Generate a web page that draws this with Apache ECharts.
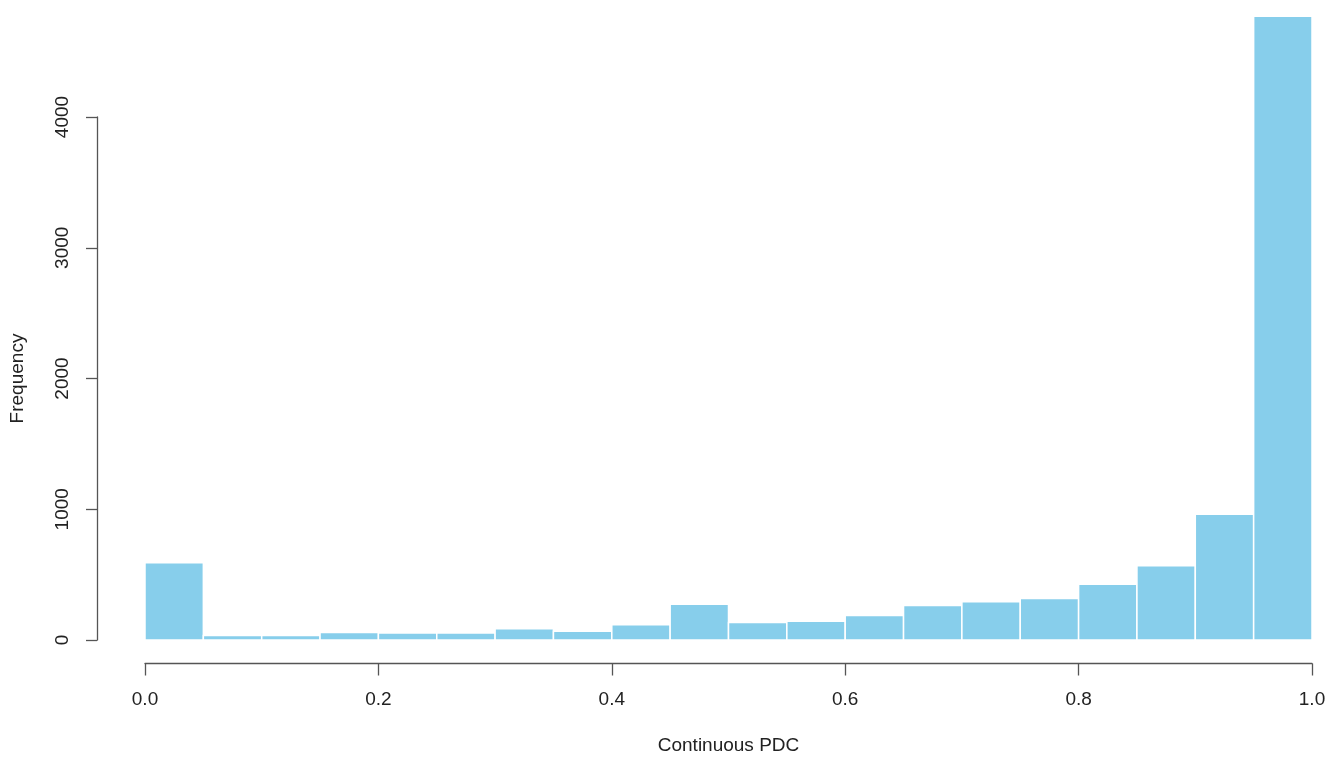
<!DOCTYPE html>
<html>
<head>
<meta charset="utf-8">
<script src="https://cdn.jsdelivr.net/npm/echarts@6/dist/echarts.min.js"></script>
<style>html,body{margin:0;padding:0;background:#fff;}#c{width:1338px;height:760px;}</style>
</head>
<body>
<div id="c"></div>
<script>
var binStarts = [0.00,0.05,0.10,0.15,0.20,0.25,0.30,0.35,0.40,0.45,0.50,0.55,0.60,0.65,0.70,0.75,0.80,0.85,0.90,0.95];
var binEnds   = [0.05,0.10,0.15,0.20,0.25,0.30,0.35,0.40,0.45,0.50,0.55,0.60,0.65,0.70,0.75,0.80,0.85,0.90,0.95,1.00];
var counts    = [591,35,35,58,53,53,86,66,117,273,134,144,187,263,293,318,427,568,962,4770];
var xTicks = [0,0.2,0.4,0.6,0.8,1.0];
var yTicks = [0,1000,2000,3000,4000];
var xTitle = 'Continuous PDC';
var yTitle = 'Frequency';

var data = binStarts.map(function(s,i){ return [s, binEnds[i], counts[i]]; });
var chart = echarts.init(document.getElementById('c'));
var font = 'Liberation Sans, Arial, Helvetica, sans-serif';
chart.setOption({
  animation:false,
  backgroundColor:'#fff',
  grid:{left:145, right:26, top:117, bottom:115.3},
  xAxis:{
    type:'value', min:0, max:1, interval:0.2, offset:23.5,
    axisLine:{show:true, onZero:false, lineStyle:{color:'#555', width:1.3}},
    axisTick:{show:true, length:12, lineStyle:{color:'#555', width:1.3}},
    axisLabel:{margin:26.5, fontSize:19, color:'#222', fontFamily:font,
      formatter:function(v){ return v.toFixed(1); }},
    splitLine:{show:false},
    name:xTitle, nameLocation:'middle', nameGap:72.5,
    nameTextStyle:{fontSize:19, color:'#222', fontFamily:font}
  },
  yAxis:{
    type:'value', min:0, max:4000, interval:1000, offset:48,
    axisLine:{show:true, onZero:false, lineStyle:{color:'#555', width:1.3}},
    axisTick:{show:true, length:11, lineStyle:{color:'#555', width:1.3}},
    axisLabel:{margin:24.5, fontSize:19, color:'#222', fontFamily:font, rotate:90,
      formatter:function(v){ return String(v); }},
    splitLine:{show:false},
    name:yTitle, nameLocation:'middle', nameGap:70,
    nameTextStyle:{fontSize:19, color:'#222', fontFamily:font}
  },
  series:[{
    type:'custom',
    clip:false,
    data:data,
    encode:{x:[0,1], y:2},
    renderItem:function(params, api){
      var p0 = api.coord([api.value(0), api.value(2)]);
      var p1 = api.coord([api.value(1), 0]);
      return {
        type:'rect',
        shape:{x:p0[0], y:p0[1], width:p1[0]-p0[0], height:p1[1]-p0[1]},
        style:{fill:'#87CEEB', stroke:'#ffffff', lineWidth:1.5}
      };
    }
  }]
});
</script>
</body>
</html>
